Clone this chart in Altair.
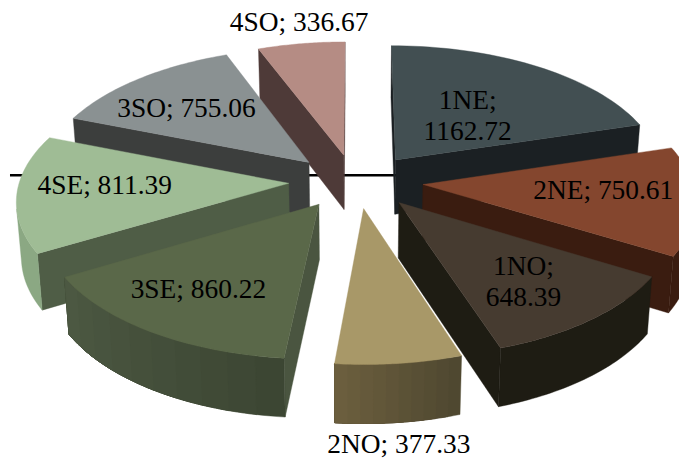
import math
import altair as alt

# --- chart values
categories = ["1NE", "2NE", "1NO", "2NO", "3SE", "4SE", "3SO", "4SO"]
values = [1162.72, 750.61, 648.39, 377.33, 860.22, 811.39, 755.06, 336.67]

# --- styles
top_colors = ["#424F52", "#84462E", "#463B30", "#A89868", "#5A6849", "#9FBC95", "#8A9192", "#B58C84"]
radial_colors = ["#1B2023", "#3A1C10", "#1E1C13", "#6B5E3E", "#4A5540", "#4F5D46", "#3C3E3D", "#4E3A38"]
outer_start = ["#1B2023", "#3A1C10", "#1E1C13", "#4F4830", "#3C4633", "#8BA883", "#3C3E3D", "#4E3A38"]
outer_end = ["#1B2023", "#3A1C10", "#1E1C13", "#6B5E3E", "#4C5842", "#8BA883", "#3C3E3D", "#4E3A38"]
paint_order = ["4SO", "3SO", "1NE", "4SE", "2NE", "3SE", "1NO", "2NO"]
label_text = ["1NE;\n1162.72", "2NE; 750.61", "1NO;\n648.39", "2NO; 377.33",
              "3SE; 860.22", "4SE; 811.39", "3SO; 755.06", "4SO; 336.67"]
label_x = [467, 603, 523, 398, 197, 103, 185, 298]
label_y = [100, 190, 266, 445, 289, 185, 108, 21]

# --- view of the tilted pie
PAGE = 8
CX, CY, RX, RY, K = 355, 180, 270, 132, 0.113
EX, EY = 0.25, 0.205
DEPTH, SHRINK = 55, 0.985


def project(a, b, low=False):
    s = 1 / (1 - K * b)
    x = CX + RX * a * s
    y = CY + RY * b * s
    if low:
        x = CX + (x - CX) * SHRINK
        y = y + DEPTH * s ** 0.5
    return [x - PAGE, y - PAGE]


def mix(c1, c2, t):
    p = [int(c1[i:i + 2], 16) for i in (1, 3, 5)]
    q = [int(c2[i:i + 2], 16) for i in (1, 3, 5)]
    return "#%02x%02x%02x" % tuple(round(u + (v - u) * t) for u, v in zip(p, q))


def feature(ring, fill):
    return {"type": "Feature",
            "geometry": {"type": "Polygon", "coordinates": [ring + [ring[0]]]},
            "properties": {"fill": fill}}


def quad(p, q):
    t1, t2 = project(*p), project(*q)
    b1, b2 = project(*p, low=True), project(*q, low=True)
    return [t1, t2, b2, b1]


def area(r):
    return sum(r[i][0] * r[(i + 1) % len(r)][1] - r[(i + 1) % len(r)][0] * r[i][1] for i in range(len(r)))


def band(points, fill):
    tops = [project(*p) for p in points]
    lows = [project(*p, low=True) for p in points]
    return feature(tops + lows[::-1], fill)


total = sum(values)
spans, acc = {}, 0.0
for name, v in zip(categories, values):
    spans[name] = (acc, acc + v / total * 2 * math.pi)
    acc = spans[name][1]

faces = []
for name in paint_order:
    i = categories.index(name)
    t0, t1 = spans[name]
    mid = (t0 + t1) / 2
    ax, ay = EX * math.sin(mid), -EY * math.cos(mid)
    n = 40
    arc = [(ax + math.sin(t0 + (t1 - t0) * j / n), ay - math.cos(t0 + (t1 - t0) * j / n)) for j in range(n + 1)]
    # cut faces
    for p, q in ((arc[0], (ax, ay)), ((ax, ay), arc[-1])):
        r = quad(p, q)
        if area(r) > 0:
            faces.append(feature(r, radial_colors[i]))
    # outer wall: only the part that faces the viewer, in colour bands that overlap
    front = [j for j in range(n) if area(quad(arc[j], arc[j + 1])) < 0]
    if front:
        first, last = front[0], front[-1] + 1
        if outer_start[i] == outer_end[i]:
            faces.append(band(arc[first:last + 1], outer_start[i]))
        else:
            steps = 10
            for k in range(steps):
                j0 = first + (last - first) * k // steps
                faces.append(band(arc[j0:last + 1], mix(outer_start[i], outer_end[i], k / (steps - 1))))
    # top
    faces.append(feature([project(ax, ay)] + [project(*p) for p in arc], top_colors[i]))

W, H = 671, 446

axis_line = alt.Chart(alt.Data(values=[{"k": 0}])).mark_rule(color="black", strokeWidth=2.5).encode(
    x=alt.value(0), x2=alt.value(400), y=alt.value(174 - PAGE))

pie = alt.Chart(alt.Data(values=faces)).mark_geoshape(strokeWidth=0.4).encode(
    fill=alt.Fill("properties.fill:N", scale=None, legend=None),
    stroke=alt.Stroke("properties.fill:N", scale=None, legend=None),
).project(type="identity", scale=1, translate=[0, 0])

labels_df = alt.Data(values=[
    {"t": t, "x": x - PAGE, "y": y - PAGE} for t, x, y in zip(label_text, label_x, label_y)
])
labels = alt.Chart(labels_df).mark_text(
    font="Liberation Serif", fontSize=27.5, color="black", lineBreak="\n", lineHeight=31,
    align="center", baseline="middle",
).encode(
    x=alt.X("x:Q", scale=None, axis=None),
    y=alt.Y("y:Q", scale=None, axis=None),
    text="t:N",
)

chart = alt.layer(axis_line, pie, labels).resolve_scale(x="independent", y="independent").properties(
    width=W, height=H, padding=0
).configure_view(stroke=None)

chart.save("out.html", embed_options={"renderer": "svg", "actions": False})
